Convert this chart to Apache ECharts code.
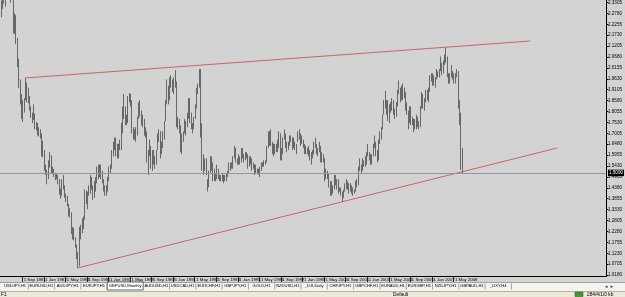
<!DOCTYPE html>
<html><head><meta charset="utf-8">
<script src="https://cdn.jsdelivr.net/npm/echarts@6/dist/echarts.min.js"></script>
<style>html,body{margin:0;padding:0;background:#d3d3d3;overflow:hidden}#c{width:625px;height:297px}</style>
</head><body><div id="c"></div>
<script>
// GBPUSD, Monthly — first bar May 1980
const startYear = 1980, startMonth = 5;
const monthCount = 450; // bars + right shift of the chart
const monthNames = ['Jan','Feb','Mar','Apr','May','Jun','Jul','Aug','Sep','Oct','Nov','Dec'];

const highs = [
  2.3400,2.3700,2.4000,2.3950,2.4100,2.4600,2.4500,2.4200,                      // 1980 May-Dec
  2.4200,2.4000,2.2800,2.2700,2.1600,2.0600,1.9600,1.8900,1.8600,1.8700,1.9670,1.9450, // 1981
  1.9200,1.8800,1.8300,1.8000,1.8400,1.7950,1.7550,1.7500,1.7300,1.7200,1.7000,1.6650, // 1982
  1.6200,1.5500,1.5250,1.5700,1.6100,1.5950,1.5400,1.5300,1.5100,1.5100,1.5000,1.4800, // 1983
  1.4350,1.4800,1.5000,1.4500,1.4100,1.4000,1.3600,1.3400,1.3200,1.2500,1.2450,1.2000, // 1984
  1.1650,1.1300,1.2500,1.2600,1.2900,1.3000,1.4300,1.4250,1.4200,1.4500,1.5000,1.4900, // 1985
  1.4500,1.4700,1.4900,1.5400,1.5500,1.5500,1.5500,1.5200,1.4800,1.4500,1.4500,1.4900, // 1986
  1.5400,1.5500,1.6200,1.6600,1.6800,1.6800,1.6500,1.6500,1.6700,1.7500,1.8300,1.8900, // 1987
  1.8300,1.7900,1.8800,1.8950,1.8900,1.8600,1.7300,1.7200,1.7300,1.7800,1.8500,1.8600, // 1988
  1.8100,1.7900,1.7700,1.7300,1.7100,1.6200,1.6700,1.6400,1.6200,1.6200,1.5900,1.6200, // 1989
  1.7000,1.7200,1.7100,1.6600,1.7100,1.7600,1.8600,1.9600,1.9300,1.9700,1.9800,1.9600, // 1990
  1.9700,2.0050,1.9500,1.7800,1.7700,1.7400,1.7000,1.7100,1.7700,1.7600,1.8000,1.8700, // 1991
  1.8700,1.8000,1.7500,1.7800,1.8400,1.9200,1.9400,2.0100,2.0100,1.7500,1.6000,1.5800, // 1992
  1.5800,1.4800,1.5200,1.5900,1.5900,1.5600,1.5300,1.5100,1.5500,1.5300,1.5000,1.5000, // 1993
  1.5100,1.5000,1.5000,1.5100,1.5200,1.5600,1.5600,1.5600,1.5900,1.6400,1.6300,1.5800, // 1994
  1.6000,1.5900,1.6300,1.6300,1.6000,1.6100,1.6100,1.6000,1.5900,1.5900,1.5800,1.5600, // 1995
  1.5500,1.5500,1.5300,1.5300,1.5400,1.5600,1.5600,1.5700,1.5700,1.6400,1.7100,1.7100, // 1996
  1.7200,1.6600,1.6500,1.6500,1.6500,1.6700,1.7100,1.7000,1.6300,1.6800,1.7200,1.7000, // 1997
  1.6600,1.6600,1.6900,1.6900,1.6800,1.6800,1.6600,1.6500,1.7100,1.7200,1.7000,1.6900, // 1998
  1.6700,1.6500,1.6400,1.6300,1.6400,1.6200,1.6100,1.6200,1.6600,1.6800,1.6500,1.6300, // 1999
  1.6600,1.6400,1.6100,1.6000,1.5800,1.5300,1.5200,1.5100,1.4700,1.4700,1.4500,1.5000, // 2000
  1.5000,1.4800,1.4800,1.4400,1.4400,1.4200,1.4300,1.4600,1.4800,1.4700,1.4600,1.4600, // 2001
  1.4500,1.4400,1.4300,1.4700,1.4800,1.5400,1.5800,1.5500,1.5800,1.5700,1.5900,1.6100, // 2002
  1.6500,1.6100,1.6000,1.6000,1.6500,1.6900,1.6600,1.6200,1.6700,1.7100,1.7300,1.7900, // 2003
  1.8600,1.9050,1.8600,1.8600,1.8400,1.8500,1.8700,1.8600,1.8200,1.8500,1.9100,1.9550, // 2004
  1.9200,1.9300,1.9400,1.9200,1.9000,1.8500,1.8100,1.8300,1.8300,1.7800,1.7700,1.7700, // 2005
  1.7900,1.7800,1.7600,1.8300,1.9000,1.8900,1.8700,1.9100,1.9100,1.9200,1.9800,1.9900, // 2006
  1.9900,1.9800,1.9700,2.0100,2.0000,2.0100,2.0700,2.0400,2.0500,2.0800,2.1161,2.0700, // 2007
  1.9900,1.9900,2.0300,2.0000,1.9900,1.9900,2.0100,2.0000,1.8600,1.8000,1.6300         // 2008 Jan-Nov
];
const lows = [
  2.2600,2.3000,2.3250,2.3100,2.3650,2.3800,2.3600,2.3300,
  2.3500,2.1800,2.1800,2.1300,2.0200,1.9200,1.8400,1.7700,1.7550,1.8000,1.8600,1.8500,
  1.8450,1.8100,1.7750,1.7500,1.7650,1.7200,1.7150,1.6900,1.6850,1.6750,1.5900,1.5850,
  1.5200,1.5000,1.4550,1.4800,1.5350,1.5100,1.5050,1.4900,1.4750,1.4800,1.4550,1.4050,
  1.3850,1.4000,1.4300,1.3900,1.3700,1.3500,1.3000,1.2950,1.2150,1.1900,1.1850,1.1500,
  1.0950,1.0520,1.0600,1.1900,1.2200,1.2400,1.2850,1.3600,1.3350,1.4000,1.4100,1.4300,
  1.3800,1.3900,1.4200,1.4600,1.4800,1.4900,1.4800,1.4600,1.4200,1.4000,1.4000,1.4200,
  1.4700,1.5100,1.5300,1.5900,1.6200,1.5900,1.5800,1.5800,1.6200,1.6200,1.7000,1.7700,
  1.7400,1.7400,1.7500,1.8500,1.8300,1.7000,1.6700,1.6700,1.6600,1.6900,1.7700,1.7800,
  1.7400,1.7300,1.6900,1.6800,1.5600,1.5000,1.5900,1.5300,1.5200,1.5500,1.5300,1.5500,
  1.6200,1.6600,1.5800,1.6000,1.6300,1.6700,1.7600,1.8400,1.8400,1.8600,1.9200,1.9000,
  1.8900,1.9200,1.7300,1.7200,1.7000,1.6100,1.6000,1.6600,1.7000,1.6900,1.7300,1.7700,
  1.7500,1.7200,1.7000,1.7200,1.7700,1.8200,1.8900,1.9200,1.6800,1.5200,1.5000,1.5200,
  1.5000,1.4200,1.4400,1.5100,1.5200,1.4700,1.4700,1.4700,1.4800,1.4800,1.4700,1.4700,
  1.4700,1.4600,1.4700,1.4700,1.4900,1.5100,1.5200,1.5300,1.5300,1.5800,1.5600,1.5500,
  1.5500,1.5500,1.5600,1.5800,1.5600,1.5700,1.5800,1.5300,1.5400,1.5500,1.5200,1.5300,
  1.5000,1.5100,1.5100,1.5000,1.4900,1.5200,1.5400,1.5400,1.5500,1.5600,1.6300,1.6400,
  1.6400,1.6000,1.5900,1.6000,1.6100,1.6100,1.6300,1.5700,1.5700,1.6000,1.6700,1.6300,
  1.6100,1.6200,1.6400,1.6600,1.6200,1.6300,1.6200,1.6000,1.6600,1.6700,1.6400,1.6500,
  1.6300,1.6000,1.6000,1.6000,1.5900,1.5700,1.5500,1.5800,1.6000,1.6300,1.6000,1.5900,
  1.6100,1.5600,1.5600,1.5600,1.4700,1.4800,1.4800,1.4400,1.4000,1.4000,1.4100,1.4300,
  1.4500,1.4300,1.4100,1.4200,1.4000,1.3700,1.3900,1.4200,1.4300,1.4300,1.4100,1.4200,
  1.4100,1.4000,1.4100,1.4200,1.4400,1.4500,1.5200,1.5100,1.5200,1.5400,1.5400,1.5500,
  1.5900,1.5700,1.5500,1.5500,1.5900,1.6300,1.5900,1.5600,1.5700,1.6500,1.6700,1.7200,
  1.7900,1.8200,1.7900,1.7600,1.7500,1.8000,1.8100,1.7900,1.7700,1.7800,1.8300,1.8900,
  1.8500,1.8600,1.8600,1.8700,1.8100,1.7900,1.7200,1.7500,1.7400,1.7400,1.7050,1.7200,
  1.7200,1.7300,1.7200,1.7300,1.8200,1.8200,1.8100,1.8500,1.8600,1.8500,1.9000,1.9500,
  1.9300,1.9300,1.9200,1.9600,1.9700,1.9700,2.0000,1.9800,1.9900,2.0300,2.0400,1.9700,
  1.9400,1.9400,1.9700,1.9600,1.9400,1.9400,1.9700,1.8200,1.7400,1.5250,1.5050
];

const yTickValues = [2.3305,2.2780,2.2255,2.1730,2.1205,2.0680,2.0155,1.9630,1.9105,1.8580,
  1.8055,1.7530,1.7005,1.6480,1.5955,1.5430,1.4905,1.4380,1.3855,1.3330,1.2805,1.2280,
  1.1755,1.1230,1.0705,1.0180];
const yMin = 1.0135, yMax = 2.3424;
const xLabelEvery = 16;
const trendUpper = [['1981-11', 1.967], ['2013-02', 2.145]];
const trendLower = [['1985-02', 1.052], ['2014-10', 1.630]];
const currentPrice = 1.5090;

const tabs = ['USDJPY,H1','EURUSD,H1','AUDJPY,H1','EURJPY,H1','GBPUSD,Monthly','AUDUSD,H1',
  'USDCAD,H1','EURCHF,H1','GBPJPY,H1','GOLD,H1','NZDUSD,H1','_DJI,Daily','CHFJPY,H1',
  'GBPCHF,H1','EURAUD,H1','EURGBP,H1','NZDJPY,H1','GBPAUD,H1','_DXY,H4'];
const activeTab = 'GBPUSD,Monthly';
const statusTexts = ['F1', 'Default', '284/4/1/0 kb'];

// ---- build
const categories = [];
for (let i = 0; i < monthCount; i++) {
  const t = startMonth - 1 + i;
  const y = startYear + Math.floor(t / 12), m = t % 12;
  categories.push(y + '-' + String(m + 1).padStart(2, '0'));
}
const bars = highs.map((h, i) => [i, lows[i], h]);
const lastBar = highs.length - 1;
const showX = (idx) => idx % xLabelEvery === 0 && idx <= lastBar;
const fmtDate = (v) => { const p = v.split('-'); return '1 ' + monthNames[+p[1] - 1] + ' ' + p[0]; };

const font = 'Liberation Sans';
const graphics = [];
graphics.push({type:'rect', shape:{x:0,y:282,width:625,height:9}, style:{fill:'#f4f3ee'}, silent:true});
graphics.push({type:'line', shape:{x1:0,y1:282.5,x2:625,y2:282.5}, style:{stroke:'#a0a0a0',lineWidth:1}, silent:true});
graphics.push({type:'rect', shape:{x:0,y:291,width:625,height:6}, style:{fill:'#ece9d8'}, silent:true});
graphics.push({type:'line', shape:{x1:0,y1:291.5,x2:625,y2:291.5}, style:{stroke:'#b8b4a0',lineWidth:1}, silent:true});
let tx = 2;
tabs.forEach(t => {
  const w = t === activeTab ? 36 : 26.3;
  if (t === activeTab) {
    graphics.push({type:'rect', shape:{x:tx,y:282,width:w,height:8}, style:{fill:'#ffffff',stroke:'#404040',lineWidth:0.8}, silent:true});
  } else {
    graphics.push({type:'line', shape:{x1:tx+w,y1:283.5,x2:tx+w,y2:289.5}, style:{stroke:'#808080',lineWidth:0.7}, silent:true});
  }
  graphics.push({type:'text', x:tx + w/2, y:286.3, style:{text:t, fill:'#000', font:'4.1px "'+font+'"', align:'center', verticalAlign:'middle'}, silent:true});
  tx += w;
});
graphics.push({type:'text', x:604, y:286.3, style:{text:'◄ ►', fill:'#404040', font:'4.5px "'+font+'"', align:'left', verticalAlign:'middle'}, silent:true});
graphics.push({type:'text', x:1, y:294.3, style:{text:statusTexts[0], fill:'#000', font:'4.8px "'+font+'"', verticalAlign:'middle'}, silent:true});
graphics.push({type:'text', x:393, y:294.3, style:{text:statusTexts[1], fill:'#000', font:'4.8px "'+font+'"', verticalAlign:'middle'}, silent:true});
graphics.push({type:'rect', shape:{x:575,y:292,width:8,height:4.5}, style:{fill:'#3a9a3a',stroke:'#205020',lineWidth:0.5}, silent:true});
graphics.push({type:'text', x:587, y:294.3, style:{text:statusTexts[2], fill:'#000', font:'4.8px "'+font+'"', verticalAlign:'middle'}, silent:true});

const chart = echarts.init(document.getElementById('c'), null, {renderer:'canvas'});
chart.setOption({
  animation: false,
  backgroundColor: '#d3d3d3',
  grid: {left: -3, right: 13, top: 0, bottom: 21},
  xAxis: {
    type: 'category', data: categories, boundaryGap: true,
    axisLine: {show: true, lineStyle: {color: '#000', width: 1}},
    axisTick: {show: true, interval: showX, alignWithLabel: true, length: 6, lineStyle: {color: '#000', width: 0.8}},
    axisLabel: {interval: showX, formatter: fmtDate, align: 'left', padding: [0,0,0,1.5], margin: 1.5,
      fontSize: 4.3, fontFamily: font, color: '#000', hideOverlap: false},
    splitLine: {show: false}
  },
  yAxis: {
    type: 'value', position: 'right', min: yMin, max: yMax, scale: true,
    axisLine: {show: true, lineStyle: {color: '#000', width: 1}},
    axisTick: {show: true, customValues: yTickValues, length: 2, lineStyle: {color: '#000'}},
    axisLabel: {customValues: yTickValues, formatter: v => v.toFixed(4), fontSize: 4.6, fontFamily: font, color: '#000', margin: 1.5},
    splitLine: {show: false}
  },
  graphic: graphics,
  series: [{
    type: 'custom', data: bars, clip: true,
    encode: {x: 0, y: [1, 2]},
    renderItem: function (params, api) {
      const i = api.value(0);
      const lo = api.coord([i, api.value(1)]);
      const hi = api.coord([i, api.value(2)]);
      const x = Math.round(lo[0]) + 0.5;
      return {type: 'line', shape: {x1: x, y1: lo[1], x2: x, y2: hi[1]},
        style: {stroke: '#5a5a5a', lineWidth: 0.9}};
    },
    markLine: {
      silent: true, symbol: ['none','none'], animation: false,
      data: [
        [{coord: trendUpper[0]}, {coord: trendUpper[1]}],
        [{coord: trendLower[0]}, {coord: trendLower[1]}],
        {yAxis: currentPrice, lineStyle: {color: '#8a98a8', width: 1, type: 'solid'},
         label: {show: true, position: 'end', formatter: currentPrice.toFixed(4), backgroundColor: '#000', color: '#fff',
           fontSize: 4.6, fontFamily: font, padding: [1,1,0.5,1], distance: 1.5}}
      ],
      lineStyle: {color: '#d06262', width: 1, type: 'solid'},
      label: {show: false}
    }
  }]
});
</script></body></html>
